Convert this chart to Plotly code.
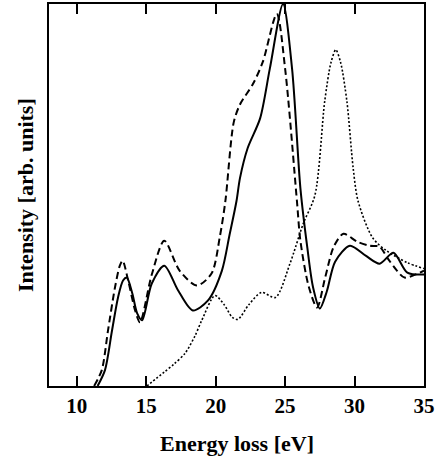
import plotly.graph_objects as go

# ---- data ----
solid_x = [11.5, 12.03, 12.54, 12.97, 13.33, 13.6, 14.0, 14.35, 14.7, 15.4, 16.3, 17.3, 18.35, 19.45, 20.45, 21.0, 21.5, 21.75, 22.3, 23.2, 23.9, 24.85, 25.5, 26.1, 26.6, 27.0, 27.5, 28.0, 28.6, 29.67, 30.8, 31.8, 32.8, 33.8, 35.0]
solid_y = [0, 16, 56, 89, 106, 109, 93, 73, 66, 103, 121, 96, 76, 86, 116, 152, 186, 209, 239, 269, 319, 384, 319, 199, 139, 100, 78, 95, 125, 141, 131, 123, 134, 114, 112]

dashed_x = [11.25, 11.8, 12.25, 12.75, 13.1, 13.3, 13.7, 14.2, 14.55, 15.4, 16.3, 17.4, 18.65, 19.7, 20.3, 20.7, 21.3, 21.75, 22.7, 23.4, 24.4, 25.0, 25.85, 26.1, 26.7, 27.3, 27.9, 28.5, 29.2, 30.2, 31.1, 31.8, 32.4, 33.05, 33.6, 35.0]
dashed_y = [0, 16, 56, 99, 121, 126, 106, 76, 64, 112, 146, 116, 101, 113, 150, 186, 265, 283, 304, 326, 374, 319, 186, 146, 100, 79, 110, 140, 153, 145, 141, 140, 128, 116, 109, 116]

dotted_x = [15.05, 16.3, 17.0, 17.8, 18.5, 19.0, 19.95, 20.6, 21.2, 21.6, 22.4, 23.3, 24.3, 25.35, 26.3, 27.15, 27.85, 28.3, 28.65, 29.0, 29.45, 29.9, 30.25, 31.3, 32.3, 33.8, 35.0]
dotted_y = [0, 14, 22, 33, 50, 66, 91, 82, 69, 67, 82, 94, 89, 123, 163, 192, 286, 325, 338, 325, 286, 219, 186, 149, 136, 124, 118]

x_ticks = [10, 15, 20, 25, 30, 35]

fig = go.Figure()
fig.add_trace(go.Scatter(x=solid_x, y=solid_y, mode="lines",
                         line=dict(color="black", width=2, shape="spline", smoothing=0.8)))
fig.add_trace(go.Scatter(x=dashed_x, y=dashed_y, mode="lines",
                         line=dict(color="black", width=2, dash="7px,4px", shape="spline", smoothing=0.8)))
fig.add_trace(go.Scatter(x=dotted_x, y=dotted_y, mode="lines",
                         line=dict(color="black", width=1.6, dash="2px,2px", shape="spline", smoothing=0.8)))

font = "Liberation Serif"
fig.update_layout(
    width=441, height=462,
    margin=dict(l=49, r=17, t=2, b=76),
    paper_bgcolor="white", plot_bgcolor="white",
    showlegend=False,
    font=dict(family=font, color="black", size=21),
    xaxis=dict(range=[8, 35], tickvals=x_ticks, ticktext=[f"<b>{v}</b>" for v in x_ticks],
               ticks="inside", ticklen=10, tickwidth=2, tickcolor="black",
               showline=True, linewidth=2, linecolor="black", mirror="ticks",
               showgrid=False, zeroline=False,
               tickfont=dict(family=font, size=21, color="black")),
    yaxis=dict(range=[0, 384], showticklabels=False, ticks="",
               showline=True, linewidth=2, linecolor="black", mirror=True,
               showgrid=False, zeroline=False),
    annotations=[
        dict(text="<b>Energy loss [eV]</b>", xref="paper", yref="paper",
             x=0.5, y=0, yanchor="middle", yshift=-57, showarrow=False,
             font=dict(family=font, size=22, color="black")),
        dict(text="<b>Intensity [arb. units]</b>", xref="paper", yref="paper",
             x=0, y=0.5, xanchor="center", yanchor="middle", xshift=-24, textangle=-90,
             showarrow=False, font=dict(family=font, size=22, color="black")),
    ],
)

fig.write_html("out.html", config={"displayModeBar": False},
               post_script="document.body.style.margin='0px';")
